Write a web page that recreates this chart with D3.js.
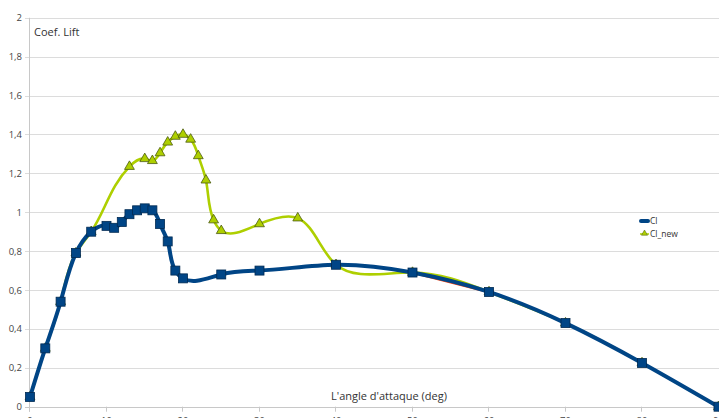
<!DOCTYPE html>
<html>
<head>
<meta charset="utf-8">
<script src="https://cdn.jsdelivr.net/npm/d3@7"></script>
<style>
  html, body { margin: 0; padding: 0; background: #fff; }
  svg { display: block; font-family: "Open Sans", "DejaVu Sans", sans-serif; }
</style>
</head>
<body>
<div id="chart"></div>
<script>
// ---- data ----
const clAngles = [0, 2, 4, 6, 8, 10, 11, 12, 13, 14, 15, 16, 17, 18, 19, 20, 25, 30, 40, 50, 60, 70, 80, 90];
const clValues = [0.05, 0.30, 0.54, 0.79, 0.90, 0.93, 0.92, 0.95, 0.99, 1.01, 1.02, 1.01, 0.94, 0.85, 0.70, 0.66, 0.68, 0.70, 0.73, 0.69, 0.59, 0.43, 0.225, 0.0];

const clNewAngles = [0, 2, 4, 6, 8, 13, 15, 16, 17, 18, 19, 20, 21, 22, 23, 24, 25, 30, 35, 40, 50, 60, 70, 80, 90];
const clNewValues = [0.05, 0.30, 0.54, 0.79, 0.90, 1.235, 1.275, 1.265, 1.305, 1.36, 1.39, 1.40, 1.375, 1.29, 1.165, 0.96, 0.905, 0.94, 0.97, 0.73, 0.69, 0.59, 0.43, 0.225, 0.0];

const redAngles = [50, 60];
const redValues = [0.69, 0.59];

const xTicks = [0, 10, 20, 30, 40, 50, 60, 70, 80, 90];
const yTicks = [0, 0.2, 0.4, 0.6, 0.8, 1, 1.2, 1.4, 1.6, 1.8, 2];
const legendLabels = ["Cl", "Cl_new"];

// ---- layout ----
const W = 719, H = 418;
const x0 = 30, x1 = 718.5, yTop = 17.8, yBot = 406.7;

const svg = d3.select("#chart").append("svg").attr("width", W).attr("height", H);

const x = d3.scaleLinear().domain([0, 90]).range([x0, x1]);
const y = d3.scaleLinear().domain([0, 2]).range([yBot, yTop]);

// natural cubic spline second derivatives for values v over params t
function naturalM(t, v) {
  const n = t.length, M = new Array(n).fill(0);
  const m = n - 2;
  if (m < 1) return M;
  const a = [], b = [], c = [], r = [];
  for (let k = 0; k < m; k++) {
    const i = k + 1, h0 = t[i] - t[i - 1], h1 = t[i + 1] - t[i];
    a.push(h0); b.push(2 * (h0 + h1)); c.push(h1);
    r.push(6 * ((v[i + 1] - v[i]) / h1 - (v[i] - v[i - 1]) / h0));
  }
  for (let k = 1; k < m; k++) {
    const w = a[k] / b[k - 1];
    b[k] -= w * c[k - 1];
    r[k] -= w * r[k - 1];
  }
  const sol = new Array(m);
  sol[m - 1] = r[m - 1] / b[m - 1];
  for (let k = m - 2; k >= 0; k--) sol[k] = (r[k] - c[k] * sol[k + 1]) / b[k];
  for (let k = 0; k < m; k++) M[k + 1] = sol[k];
  return M;
}

// parametric natural cubic spline (chord-length parameter) as a d3 curve
function curveSplineChord(context) {
  let xs, ys;
  return {
    areaStart() {}, areaEnd() {},
    lineStart() { xs = []; ys = []; },
    point(px, py) { xs.push(+px); ys.push(+py); },
    lineEnd() {
      const n = xs.length;
      if (!n) return;
      context.moveTo(xs[0], ys[0]);
      if (n === 2) { context.lineTo(xs[1], ys[1]); return; }
      const t = [0];
      for (let i = 1; i < n; i++) t.push(t[i - 1] + Math.hypot(xs[i] - xs[i - 1], ys[i] - ys[i - 1]));
      const Mx = naturalM(t, xs), My = naturalM(t, ys);
      const deriv = (v, M, i, h) => {
        const s = (v[i + 1] - v[i]) / h;
        return [s - h * (2 * M[i] + M[i + 1]) / 6, s + h * (M[i] + 2 * M[i + 1]) / 6];
      };
      for (let i = 0; i < n - 1; i++) {
        const h = t[i + 1] - t[i];
        const [dx0, dx1] = deriv(xs, Mx, i, h);
        const [dy0, dy1] = deriv(ys, My, i, h);
        context.bezierCurveTo(
          xs[i] + dx0 * h / 3, ys[i] + dy0 * h / 3,
          xs[i + 1] - dx1 * h / 3, ys[i + 1] - dy1 * h / 3,
          xs[i + 1], ys[i + 1]);
      }
    }
  };
}

// ---- grid ----
svg.append("g").selectAll("line").data(yTicks).join("line")
  .attr("x1", x0 - 5).attr("x2", W)
  .attr("y1", d => Math.round(y(d)) + 0.5).attr("y2", d => Math.round(y(d)) + 0.5)
  .attr("stroke", d => d === 0 ? "#c8c8c8" : "#dcdcdc").attr("stroke-width", 1);

// y axis line
svg.append("line").attr("x1", x0 - 0.5).attr("x2", x0 - 0.5)
  .attr("y1", y(2)).attr("y2", y(0) + 5)
  .attr("stroke", "#c8c8c8");

// x ticks
svg.append("g").selectAll("line").data(xTicks).join("line")
  .attr("x1", d => Math.round(x(d)) - 0.5).attr("x2", d => Math.round(x(d)) - 0.5)
  .attr("y1", y(0)).attr("y2", y(0) + 5)
  .attr("stroke", "#c8c8c8");

// y tick labels
const fmt = d => String(d).replace(".", ",");
svg.append("g").selectAll("text").data(yTicks).join("text")
  .attr("x", 22).attr("y", d => y(d) + 3.5)
  .attr("text-anchor", "end").attr("font-size", 9.5).attr("fill", "#444")
  .text(fmt);

// x tick labels (cut by the bottom edge, as in the reference)
svg.append("g").selectAll("text").data(xTicks).join("text")
  .attr("x", d => x(d)).attr("y", 424)
  .attr("text-anchor", "middle").attr("font-size", 9.5).attr("fill", "#444")
  .text(d => d);

// axis titles
svg.append("text").attr("x", 34).attr("y", 36).attr("font-size", 11).attr("fill", "#333").text("Coef. Lift");
svg.append("text").attr("x", 331).attr("y", 400).attr("font-size", 11).attr("fill", "#333").text("L'angle d'attaque (deg)");

// ---- series ----
const line = d3.line().x(d => x(d[0])).y(d => y(d[1])).curve(curveSplineChord);
const lin = d3.line().x(d => x(d[0])).y(d => y(d[1]));

const clData = clAngles.map((a, i) => [a, clValues[i]]);
const clNewData = clNewAngles.map((a, i) => [a, clNewValues[i]]);
const redData = redAngles.map((a, i) => [a, redValues[i]]);

svg.append("path").datum(redData).attr("d", lin)
  .attr("fill", "none").attr("stroke", "#ff420e").attr("stroke-width", 2.5);

svg.append("path").datum(clNewData).attr("d", line)
  .attr("fill", "none").attr("stroke", "#aecf00").attr("stroke-width", 2.6);

const tri = d3.symbol().type(d3.symbolTriangle).size(42);
svg.append("g").selectAll("path").data(clNewData).join("path")
  .attr("transform", d => `translate(${x(d[0])},${y(d[1])})`)
  .attr("d", tri).attr("fill", "#aecf00").attr("stroke", "#4b5a10").attr("stroke-width", 0.8);

svg.append("path").datum(clData).attr("d", line)
  .attr("fill", "none").attr("stroke", "#004586").attr("stroke-width", 4);

svg.append("g").selectAll("rect").data(clData).join("rect")
  .attr("x", d => x(d[0]) - 4.5).attr("y", d => y(d[1]) - 4.5)
  .attr("width", 9).attr("height", 9)
  .attr("fill", "#004586").attr("stroke", "#002a52").attr("stroke-width", 0.8);

// ---- legend ----
const lg = svg.append("g");
lg.append("line").attr("x1", 641).attr("x2", 648).attr("y1", 221).attr("y2", 221)
  .attr("stroke", "#004586").attr("stroke-width", 4).attr("stroke-linecap", "round");
lg.append("line").attr("x1", 640).attr("x2", 649).attr("y1", 234).attr("y2", 234)
  .attr("stroke", "#aecf00").attr("stroke-width", 1.5);
lg.append("path").attr("transform", "translate(644.5,233.5)")
  .attr("d", d3.symbol().type(d3.symbolTriangle).size(16))
  .attr("fill", "#aecf00").attr("stroke", "#4b5a10").attr("stroke-width", 0.5);
lg.selectAll("text").data(legendLabels).join("text")
  .attr("x", 650).attr("y", (d, i) => 224 + i * 13)
  .attr("font-size", 8.5).attr("fill", "#333")
  .text(d => d);
</script>
</body>
</html>
